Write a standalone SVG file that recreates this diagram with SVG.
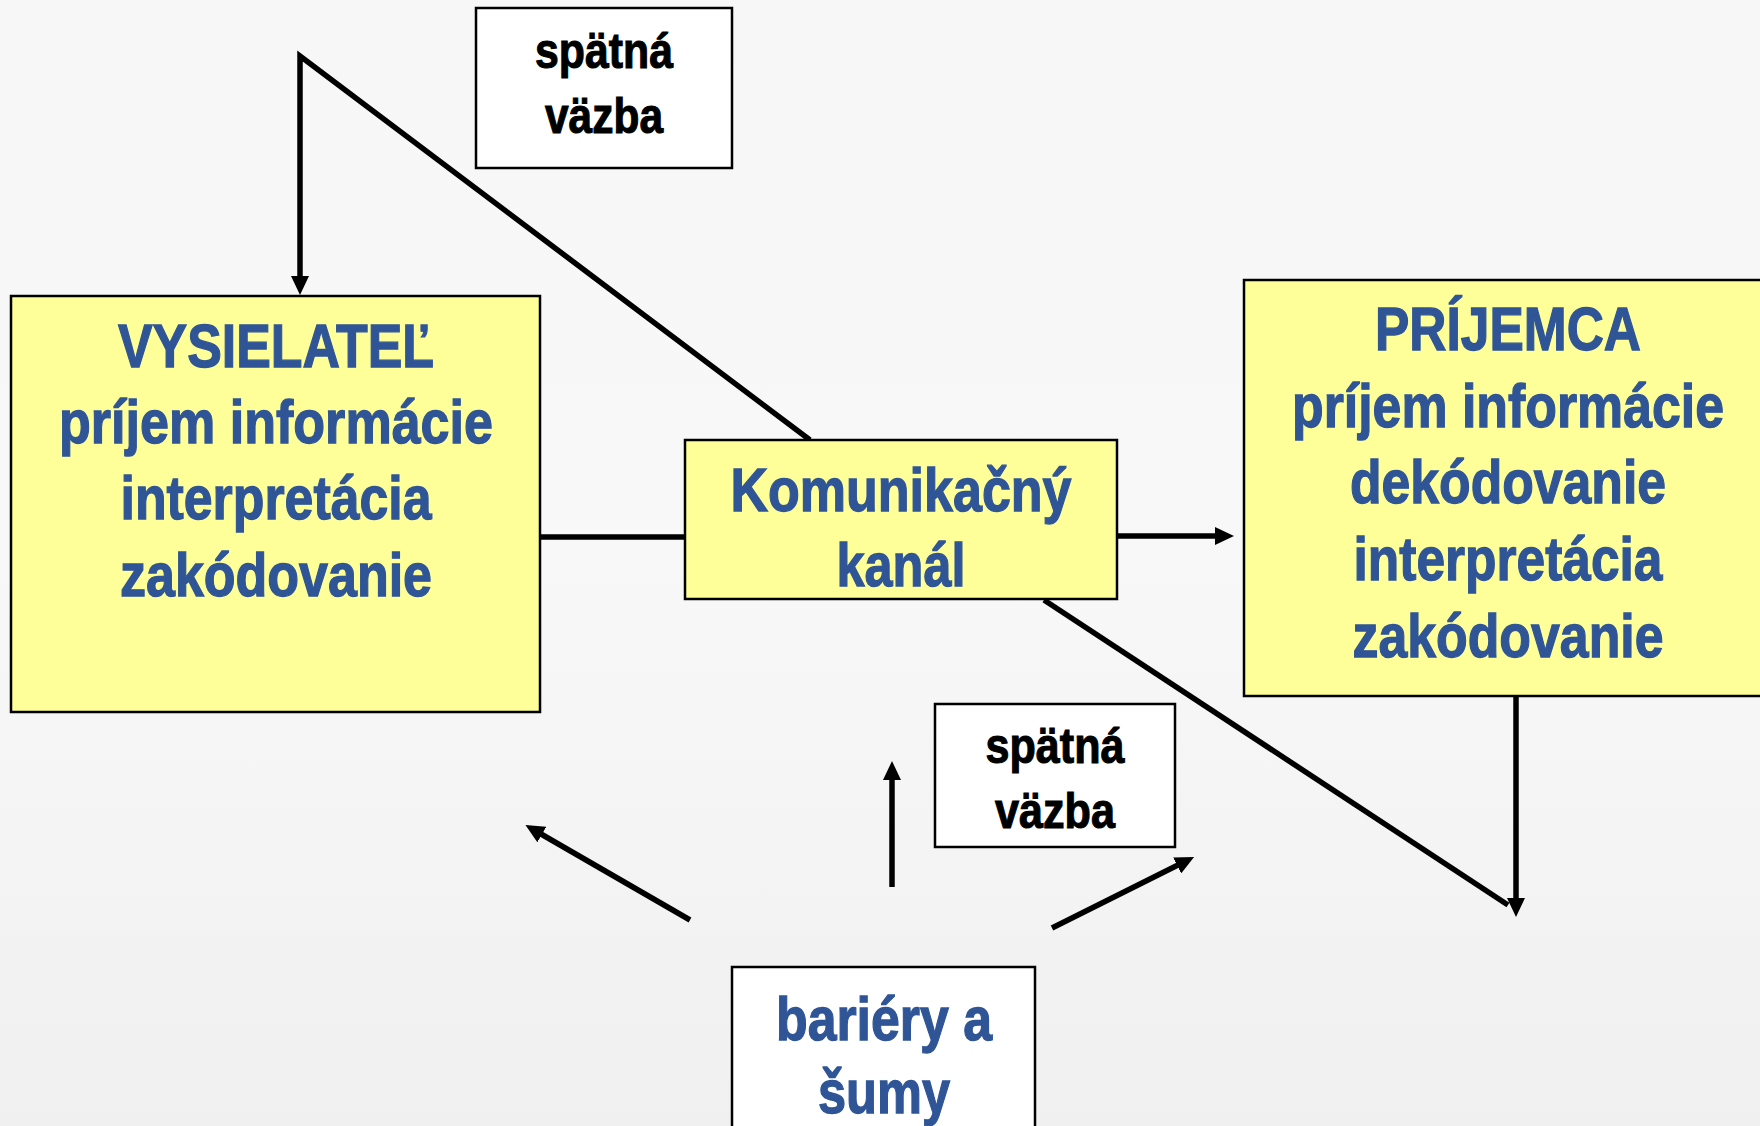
<svg xmlns="http://www.w3.org/2000/svg" width="1760" height="1126" viewBox="0 0 1760 1126">
<defs>
<linearGradient id="bg" x1="0" y1="0" x2="0" y2="1">
<stop offset="0" stop-color="#f7f7f7"/>
<stop offset="0.5" stop-color="#f8f8f8"/>
<stop offset="1" stop-color="#f0f0f0"/>
</linearGradient>
<marker id="ah" markerUnits="userSpaceOnUse" markerWidth="20" markerHeight="18" refX="1" refY="9" orient="auto">
<path d="M0,0 L19,9 L0,18 z" fill="#000"/>
</marker>
<style>
.box{stroke:#000;stroke-width:2.5}
.yel{fill:#ffff99}
.wht{fill:#ffffff}
.blue{font-family:"Liberation Sans Narrow","Liberation Sans",Arial,sans-serif;font-weight:bold;font-size:62px;fill:#2f5597;stroke:#2f5597;stroke-width:1.3;text-anchor:middle}
.blk{font-family:"Liberation Sans Narrow","Liberation Sans",Arial,sans-serif;font-weight:bold;font-size:50px;fill:#000;stroke:#000;stroke-width:1.1;text-anchor:middle}
.ln{fill:none;stroke:#000;stroke-width:5.5}
</style>
</defs>
<rect x="0" y="0" width="1760" height="1126" fill="url(#bg)"/>

<g id="connectors">
<path class="ln" d="M810,440 L300,56 L300,277" marker-end="url(#ah)"/>
<path class="ln" d="M540,537 L685,537"/>
<path class="ln" d="M1117,536 L1216,536" marker-end="url(#ah)"/>
<path class="ln" d="M1044,600 L1508,905"/>
<path class="ln" d="M1516,696 L1516,899" marker-end="url(#ah)"/>
<path class="ln" d="M690,920 L541,834" marker-end="url(#ah)"/>
<path class="ln" d="M892,887 L892,779" marker-end="url(#ah)"/>
<path class="ln" d="M1052,928 L1178,865" marker-end="url(#ah)"/>
</g>

<g id="feedback1">
<rect class="box wht" x="476" y="8" width="256" height="160"/>
<text class="blk" x="604" y="68" textLength="138" lengthAdjust="spacingAndGlyphs">spätná</text>
<text class="blk" x="604" y="133" textLength="118" lengthAdjust="spacingAndGlyphs">väzba</text>
</g>

<g id="sender">
<rect class="box yel" x="11" y="296" width="529" height="416"/>
<text class="blue" x="276" y="367" textLength="316" lengthAdjust="spacingAndGlyphs">VYSIELATEĽ</text>
<text class="blue" x="276" y="443" textLength="434" lengthAdjust="spacingAndGlyphs">príjem informácie</text>
<text class="blue" x="276" y="519" textLength="311" lengthAdjust="spacingAndGlyphs">interpretácia</text>
<text class="blue" x="276" y="596" textLength="312" lengthAdjust="spacingAndGlyphs">zakódovanie</text>
</g>

<g id="channel">
<rect class="box yel" x="685" y="440" width="432" height="159"/>
<text class="blue" x="901" y="511" textLength="341" lengthAdjust="spacingAndGlyphs">Komunikačný</text>
<text class="blue" x="901" y="586" textLength="129" lengthAdjust="spacingAndGlyphs">kanál</text>
</g>

<g id="receiver">
<rect class="box yel" x="1244" y="280" width="530" height="416"/>
<text class="blue" x="1508" y="350" textLength="266" lengthAdjust="spacingAndGlyphs">PRÍJEMCA</text>
<text class="blue" x="1508" y="427" textLength="432" lengthAdjust="spacingAndGlyphs">príjem informácie</text>
<text class="blue" x="1508" y="503" textLength="316" lengthAdjust="spacingAndGlyphs">dekódovanie</text>
<text class="blue" x="1508" y="580" textLength="309" lengthAdjust="spacingAndGlyphs">interpretácia</text>
<text class="blue" x="1508" y="657" textLength="311" lengthAdjust="spacingAndGlyphs">zakódovanie</text>
</g>

<g id="feedback2">
<rect class="box wht" x="935" y="704" width="240" height="143"/>
<text class="blk" x="1055" y="763" textLength="139" lengthAdjust="spacingAndGlyphs">spätná</text>
<text class="blk" x="1055" y="828" textLength="120" lengthAdjust="spacingAndGlyphs">väzba</text>
</g>

<g id="barriers">
<rect class="box wht" x="732" y="967" width="303" height="180"/>
<text class="blue" x="884" y="1040" textLength="216" lengthAdjust="spacingAndGlyphs">bariéry a</text>
<text class="blue" x="884" y="1113" textLength="132" lengthAdjust="spacingAndGlyphs">šumy</text>
</g>
</svg>
